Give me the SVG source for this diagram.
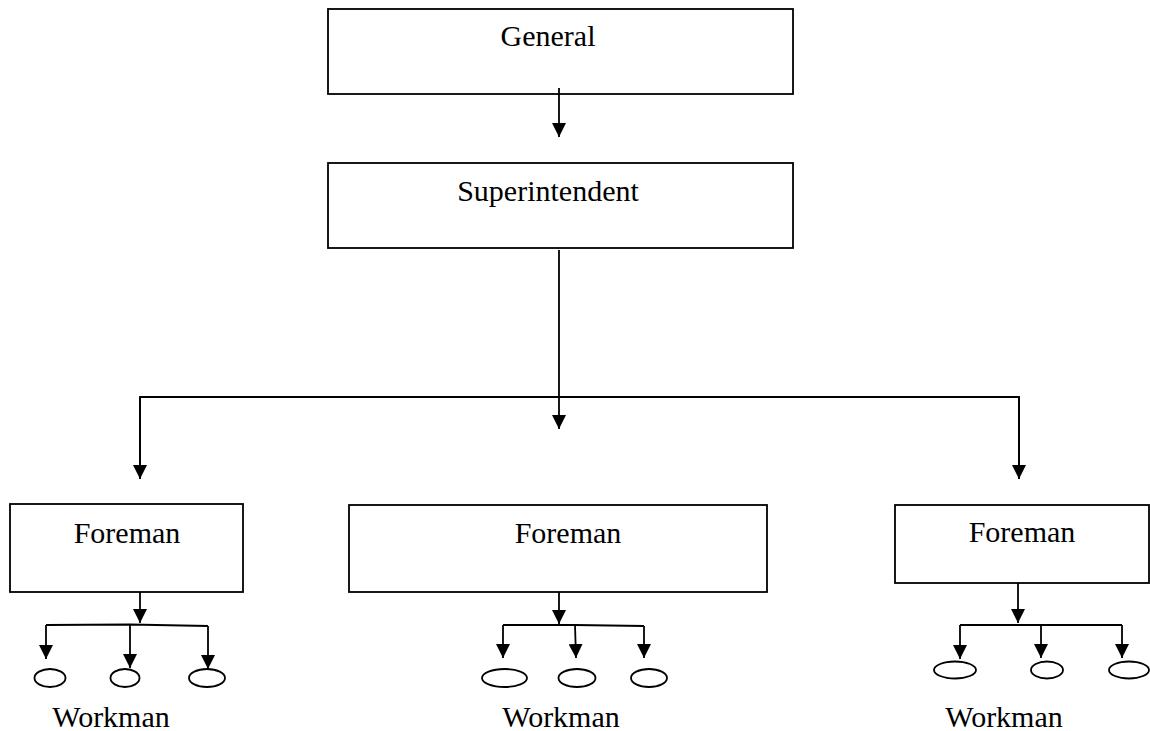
<svg xmlns="http://www.w3.org/2000/svg" width="1150" height="731" viewBox="0 0 1150 731">
  <style>
    .box { fill: #fff; stroke: #000; stroke-width: 1.8; }
    .oval { fill: #fff; stroke: #000; stroke-width: 1.8; }
    .lbl { font-family: 'Liberation Serif', 'Times New Roman', serif; font-size: 30px; fill: #000; text-anchor: middle; }
    .wire { fill: none; stroke: #000; stroke-width: 1.8; }
    .arrow { fill: none; stroke: #000; stroke-width: 1.8; marker-end: url(#head); }
  </style>
  <defs>
    <marker id="head" markerUnits="userSpaceOnUse" markerWidth="14" markerHeight="14" refX="14" refY="7" orient="auto">
      <path d="M0,0 L14,7 L0,14 z" fill="#000"/>
    </marker>
  </defs>
  <rect width="1150" height="731" fill="#fff"/>

  <g id="general">
    <rect class="box" x="328" y="9" width="465" height="85"/>
    <text class="lbl" x="548" y="46">General</text>
  </g>
  <g id="superintendent">
    <rect class="box" x="328" y="163" width="465" height="85"/>
    <text class="lbl" x="548" y="201">Superintendent</text>
  </g>

  <g id="foreman-left">
    <rect class="box" x="10" y="504" width="233" height="88"/>
    <text class="lbl" x="127" y="543">Foreman</text>
  </g>
  <g id="foreman-middle">
    <rect class="box" x="349" y="505" width="418" height="87"/>
    <text class="lbl" x="568" y="543">Foreman</text>
  </g>
  <g id="foreman-right">
    <rect class="box" x="895" y="505" width="254" height="78"/>
    <text class="lbl" x="1022" y="542">Foreman</text>
  </g>

  <g id="workmen-left">
    <ellipse class="oval" cx="50" cy="678" rx="15.5" ry="9"/>
    <ellipse class="oval" cx="125" cy="678" rx="14.5" ry="9"/>
    <ellipse class="oval" cx="207" cy="678" rx="18" ry="9"/>
    <text class="lbl" x="111" y="727">Workman</text>
  </g>
  <g id="workmen-middle">
    <ellipse class="oval" cx="504.5" cy="678" rx="22.5" ry="9"/>
    <ellipse class="oval" cx="577" cy="678" rx="18.5" ry="9"/>
    <ellipse class="oval" cx="649" cy="678" rx="18" ry="9"/>
    <text class="lbl" x="561" y="727">Workman</text>
  </g>
  <g id="workmen-right">
    <ellipse class="oval" cx="955" cy="670" rx="21" ry="8.5"/>
    <ellipse class="oval" cx="1047" cy="670" rx="16" ry="8.5"/>
    <ellipse class="oval" cx="1129" cy="670" rx="20" ry="8.5"/>
    <text class="lbl" x="1004" y="727">Workman</text>
  </g>

  <g id="connectors">
    <!-- general to superintendent -->
    <line class="arrow" x1="559" y1="88" x2="559" y2="137"/>
    <!-- superintendent to foremen -->
    <line class="arrow" x1="559" y1="250" x2="559" y2="429"/>
    <polyline class="wire" points="140,479 140,397 1019,397 1019,479"/>
    <line class="arrow" x1="140" y1="397" x2="140" y2="479"/>
    <line class="arrow" x1="1019" y1="397" x2="1019" y2="479"/>

    <!-- left foreman to workmen -->
    <line class="arrow" x1="140" y1="592" x2="140" y2="623"/>
    <polyline class="wire" points="46,625 130,624.5 208,626"/>
    <line class="arrow" x1="46" y1="625" x2="46" y2="659"/>
    <line class="arrow" x1="130" y1="624.5" x2="130" y2="668"/>
    <line class="arrow" x1="208" y1="626" x2="208" y2="669"/>

    <!-- middle foreman to workmen -->
    <line class="arrow" x1="559" y1="592" x2="559" y2="624"/>
    <polyline class="wire" points="503,625 575,625 644,626"/>
    <line class="arrow" x1="503" y1="625" x2="503" y2="658"/>
    <line class="arrow" x1="575" y1="625" x2="576" y2="658"/>
    <line class="arrow" x1="644" y1="626" x2="644" y2="658"/>

    <!-- right foreman to workmen -->
    <line class="arrow" x1="1018" y1="583" x2="1018" y2="623"/>
    <polyline class="wire" points="960,625 1122,625"/>
    <line class="arrow" x1="960" y1="625" x2="960" y2="659"/>
    <line class="arrow" x1="1041" y1="625" x2="1041" y2="658"/>
    <line class="arrow" x1="1122" y1="625" x2="1122" y2="658"/>
  </g>
</svg>
